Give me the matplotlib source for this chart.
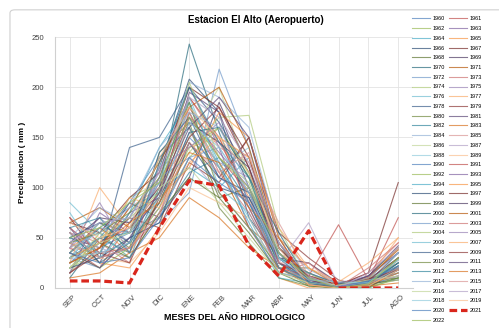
import matplotlib
matplotlib.use('Agg')
import matplotlib.pyplot as plt
from matplotlib.patches import FancyBboxPatch

plt.rcParams['font.family'] = ['Liberation Sans', 'DejaVu Sans']

# meses del año hidrologico
meses = ['SEP', 'OCT', 'NOV', 'DIC', 'ENE', 'FEB', 'MAR', 'ABR', 'MAY', 'JUN', 'JUL', 'AGO']

anios = list(range(1960, 2023))
anio_destacado = 2021

# precipitacion mensual (mm) por año
precip = [
    [25, 40, 55, 90, 150, 120, 80, 20, 5, 0, 3, 12],       # 1960
    [40, 20, 65, 100, 180, 130, 95, 35, 10, 2, 5, 20],     # 1961
    [15, 55, 30, 75, 130, 160, 110, 25, 3, 0, 8, 15],      # 1962
    [60, 35, 45, 110, 200, 140, 60, 15, 8, 5, 2, 30],      # 1963
    [30, 60, 80, 95, 120, 100, 130, 40, 12, 0, 0, 10],     # 1964
    [45, 25, 20, 60, 170, 150, 90, 10, 0, 3, 10, 25],      # 1965
    [20, 45, 70, 120, 208, 175, 70, 30, 15, 1, 4, 8],      # 1966
    [70, 30, 40, 85, 145, 110, 150, 50, 5, 0, 6, 35],      # 1967
    [35, 65, 55, 130, 160, 90, 100, 20, 20, 2, 12, 40],    # 1968
    [50, 40, 85, 70, 110, 185, 120, 45, 3, 0, 5, 18],      # 1969
    [10, 50, 35, 100, 243, 155, 85, 25, 8, 4, 0, 22],      # 1970
    [65, 80, 60, 90, 175, 120, 60, 35, 10, 0, 8, 30],      # 1971
    [30, 20, 50, 65, 95, 218, 140, 30, 6, 0, 3, 12],       # 1972
    [55, 45, 25, 125, 190, 145, 95, 15, 25, 3, 15, 45],    # 1973
    [20, 35, 90, 105, 135, 170, 172, 60, 5, 0, 2, 8],      # 1974
    [40, 70, 45, 80, 155, 125, 110, 40, 12, 6, 9, 28],     # 1975
    [85, 55, 30, 95, 185, 100, 75, 20, 3, 0, 4, 15],       # 1976
    [25, 100, 60, 110, 140, 150, 130, 35, 15, 2, 10, 50],  # 1977
    [45, 30, 140, 150, 200, 165, 115, 25, 6, 0, 5, 20],    # 1978
    [15, 40, 70, 60, 125, 105, 150, 55, 30, 8, 0, 18],     # 1979
    [35, 60, 40, 135, 165, 80, 45, 10, 2, 0, 7, 10],       # 1980
    [60, 25, 75, 90, 195, 175, 100, 45, 10, 1, 12, 35],    # 1981
    [30, 50, 55, 70, 115, 130, 85, 30, 5, 0, 3, 25],       # 1982
    [10, 15, 35, 50, 90, 70, 40, 20, 3, 0, 2, 5],          # 1983
    [50, 80, 65, 115, 205, 190, 160, 50, 18, 5, 8, 40],    # 1984
    [40, 35, 80, 100, 180, 140, 125, 65, 12, 2, 6, 30],    # 1985
    [20, 55, 45, 85, 150, 200, 110, 40, 8, 0, 10, 22],     # 1986
    [55, 40, 30, 75, 130, 95, 60, 25, 65, 3, 4, 15],       # 1987
    [30, 65, 70, 120, 175, 120, 140, 35, 5, 0, 2, 20],     # 1988
    [45, 30, 25, 55, 100, 85, 70, 15, 10, 1, 5, 12],       # 1989
    [25, 50, 85, 130, 160, 110, 90, 30, 6, 0, 3, 28],      # 1990
    [70, 45, 60, 95, 190, 150, 80, 20, 12, 63, 8, 70],     # 1991
    [35, 20, 40, 80, 140, 160, 115, 45, 3, 0, 0, 10],      # 1992
    [15, 75, 55, 105, 170, 135, 100, 25, 15, 4, 12, 35],   # 1993
    [50, 35, 75, 140, 185, 125, 65, 10, 5, 0, 6, 18],      # 1994
    [40, 60, 35, 90, 120, 175, 150, 50, 20, 2, 9, 40],     # 1995
    [20, 30, 50, 65, 145, 100, 90, 35, 8, 0, 4, 25],       # 1996
    [65, 55, 90, 115, 200, 180, 130, 40, 10, 3, 15, 105],  # 1997
    [30, 45, 30, 75, 110, 90, 55, 15, 2, 0, 3, 10],        # 1998
    [45, 70, 65, 100, 165, 145, 120, 30, 25, 5, 8, 30],    # 1999
    [55, 25, 45, 85, 155, 160, 110, 55, 6, 0, 2, 20],      # 2000
    [25, 40, 80, 125, 180, 200, 140, 40, 12, 3, 10, 38],   # 2001
    [35, 60, 55, 110, 130, 140, 95, 25, 5, 0, 5, 15],      # 2002
    [60, 35, 40, 70, 175, 115, 75, 20, 8, 1, 20, 45],      # 2003
    [20, 50, 70, 95, 205, 130, 105, 30, 15, 0, 4, 28],     # 2004
    [40, 85, 35, 120, 140, 165, 85, 45, 3, 2, 7, 12],      # 2005
    [75, 30, 60, 105, 190, 120, 70, 15, 10, 0, 3, 35],     # 2006
    [30, 45, 90, 80, 125, 150, 130, 60, 20, 6, 25, 50],    # 2007
    [50, 65, 45, 135, 170, 110, 95, 35, 5, 0, 5, 22],      # 2008
    [15, 35, 25, 90, 150, 180, 120, 25, 12, 3, 9, 18],     # 2009
    [45, 55, 75, 110, 185, 95, 60, 20, 6, 0, 2, 30],       # 2010
    [35, 20, 50, 95, 160, 190, 150, 40, 8, 1, 12, 42],     # 2011
    [60, 70, 35, 125, 200, 145, 110, 30, 15, 4, 6, 25],    # 2012
    [25, 40, 65, 85, 135, 125, 80, 50, 3, 0, 3, 15],       # 2013
    [40, 55, 80, 140, 175, 160, 100, 35, 10, 2, 10, 35],   # 2014
    [55, 30, 40, 75, 145, 115, 135, 25, 25, 0, 4, 20],     # 2015
    [20, 45, 55, 100, 120, 85, 50, 15, 5, 3, 8, 12],       # 2016
    [45, 65, 70, 115, 190, 170, 125, 45, 12, 0, 15, 40],   # 2017
    [30, 35, 45, 90, 165, 140, 95, 30, 8, 6, 5, 28],       # 2018
    [65, 50, 60, 130, 180, 150, 115, 40, 3, 0, 2, 18],     # 2019
    [35, 25, 30, 70, 130, 105, 85, 20, 6, 1, 7, 22],       # 2020
    [7, 7, 5, 60, 107, 102, 42, 12, 57, 0, 0, 0],          # 2021
    [50, 60, 85, 105, 170, 130, 100, 35, 10, 0, 4, 30],    # 2022
]

# paleta tipo Excel (tonos base, claros y oscuros)
colores = ['#4F81BD', '#C0504D', '#9BBB59', '#8064A2', '#4BACC6', '#F79646',
           '#2C4D75', '#772C2A', '#5F7530', '#4D3B62', '#276A7C', '#B65708',
           '#729ACA', '#CD7371', '#AFC97A', '#9983B5', '#6FBDD1', '#F9AB6B',
           '#3A5F8B', '#8C3836', '#71893F', '#5C4776', '#31859C', '#D8731F',
           '#95B3D7', '#D99694', '#C3D69B', '#B3A2C7', '#93CDDD', '#FAC090']

fig = plt.figure(figsize=(4.99, 3.28), dpi=100)

# marco del grafico
fig.patches.append(FancyBboxPatch((0.02, -0.05), 1.05, 1.02,
                                  boxstyle='round,pad=0,rounding_size=0.01',
                                  transform=fig.transFigure, facecolor='none',
                                  edgecolor='#D0D0D0', linewidth=0.8))

ax = fig.add_axes([0.110, 0.122, 0.718, 0.765])
x = list(range(len(meses)))

lineas = []
for i, (anio, valores) in enumerate(zip(anios, precip)):
    if anio == anio_destacado:
        ln, = ax.plot(x, valores, color='#D9261C', linewidth=2.3, linestyle=(0, (2.4, 1.2)),
                      label=str(anio), zorder=5)
    else:
        ln, = ax.plot(x, valores, color=colores[i % len(colores)], linewidth=0.8, alpha=0.7,
                      label=str(anio))
    lineas.append(ln)

ax.set_xlim(-0.5, len(meses) - 0.5)
ax.set_ylim(0, 250)
ax.set_yticks([0, 50, 100, 150, 200, 250])
ax.set_xticks(x)
ax.set_xticklabels(meses, rotation=45, ha='center', fontsize=5.5, color='#404040')
ax.tick_params(axis='y', labelsize=5.5, colors='#404040', length=0, pad=8)
ax.tick_params(axis='x', length=0, pad=4)

ax.grid(True, color='#E3E3E3', linewidth=0.6)
ax.set_axisbelow(True)
for lado in ['top', 'right']:
    ax.spines[lado].set_visible(False)
ax.spines['left'].set_color('#D0D0D0')
ax.spines['bottom'].set_color('#D0D0D0')

ax.set_ylabel('Precipitacion ( mm )', fontsize=6, fontweight='bold', labelpad=4)
ax.set_xlabel('MESES DEL AÑO HIDROLOGICO', fontsize=6.5, fontweight='bold', labelpad=2)
fig.text(0.513, 0.94, 'Estacion El Alto (Aeropuerto)', ha='center', va='center',
         fontsize=7, fontweight='bold')

# leyenda ordenada por filas: pares a la izquierda, impares a la derecha
orden = list(range(0, len(anios), 2)) + list(range(1, len(anios), 2))
fig.legend([lineas[k] for k in orden], [str(anios[k]) for k in orden],
           loc='upper left', bbox_to_anchor=(0.825, 0.95), ncol=2, fontsize=4,
           frameon=False, handlelength=3.3, handletextpad=0.5, columnspacing=0.6,
           labelspacing=0.85, borderaxespad=0, borderpad=0)

fig.savefig('out.png', dpi=100)
